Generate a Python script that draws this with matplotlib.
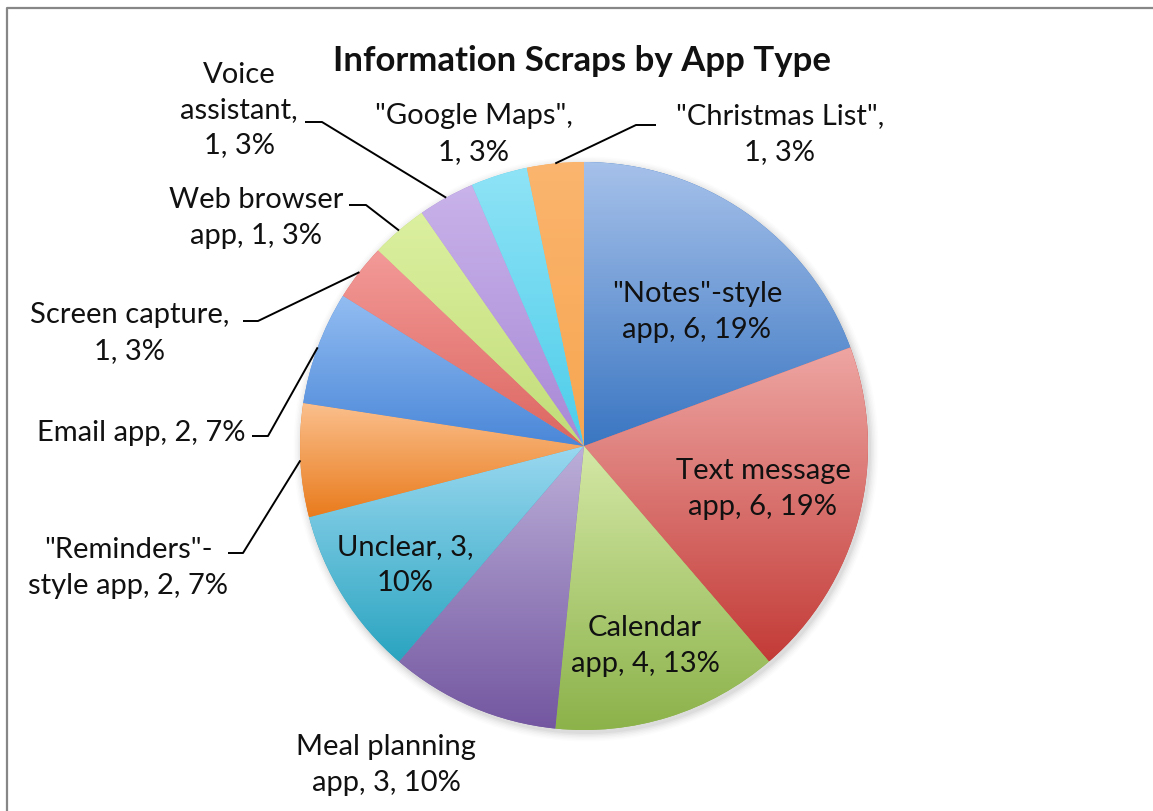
import numpy as np
import matplotlib
matplotlib.use("Agg")
import matplotlib.pyplot as plt

# Information scraps counted per app type (clockwise from 12 o'clock)
apps = ['"Notes"-style app', "Text message app", "Calendar app",
        "Meal planning app", "Unclear", '"Reminders"-style app', "Email app",
        "Screen capture", "Web browser app", "Voice assistant",
        '"Google Maps"', '"Christmas List"']
counts = [6, 6, 4, 3, 3, 2, 2, 1, 1, 1, 1, 1]
pct_shown = [19, 19, 13, 10, 10, 7, 7, 3, 3, 3, 3, 3]

# light (top) / dark (bottom) gradient stops per slice
tops = ["#a6c1ea", "#eea6a3", "#d4e8a6", "#bcafd9", "#9ad8f0", "#fbc08e",
        "#93bdf2", "#f39a98", "#dcf0a0", "#c9b3ea", "#8fe3f6", "#fbb56e"]
bottoms = ["#3a76c2", "#c33b37", "#8cb24a", "#7356a0", "#2aa4c0", "#e97b1c",
           "#4a87d8", "#dc6660", "#c2dc78", "#a888d6", "#4dcdea", "#f7a650"]

W, H = 1153, 811
CX, CY, R = 584, 446, 284
TXT = "#111111"
plt.rcParams["font.family"] = ["Lato", "DejaVu Sans"]


def py(y):
    # pixel rows run downwards, data y runs upwards
    return H - y


fig = plt.figure(figsize=(W / 100, H / 100), dpi=100)
ax = fig.add_axes([0, 0, 1, 1])

# soft drop shadow under the pie
for i, a in enumerate([0.035, 0.03, 0.025, 0.02, 0.015, 0.01]):
    ax.add_patch(plt.Circle((CX + 2, py(CY + 3)), R + 1 + i * 1.5,
                            color="#000000", alpha=a, lw=0, zorder=0))

wedges, _ = ax.pie(counts, startangle=90, counterclock=False, radius=R,
                   center=(CX, py(CY)), colors=bottoms,
                   wedgeprops=dict(linewidth=0))

# vertical gradient over each slice's own bounding box
g = np.linspace(0, 1, 256)[:, None, None]
for w, c0, c1 in zip(wedges, tops, bottoms):
    w.set_zorder(1)
    x0, y0, x1, y1 = w.get_path().get_extents().extents
    a = np.array(matplotlib.colors.to_rgb(c0))
    b = np.array(matplotlib.colors.to_rgb(c1))
    img = a * (1 - g) + b * g
    im = ax.imshow(img, extent=[x0, x1, y0, y1], origin="upper",
                   aspect="auto", interpolation="bilinear", zorder=2)
    im.set_clip_path(w)

ax.set_xlim(0, W)
ax.set_ylim(0, H)
ax.set_aspect("equal")
ax.axis("off")

# label wording, text centre, and leader elbow/end (None = no leader)
templates = ["{n}-style\napp, {c}, {p}%", "{n}\napp, {c}, {p}%",
             "{n}\napp, {c}, {p}%", "{n}\napp, {c}, {p}%", "{n}, {c},\n{p}%",
             "{n}-\nstyle app, {c}, {p}%", "{n}, {c}, {p}%",
             "{n},\n{c}, {p}%", "{n}\napp, {c}, {p}%", "{n},\n{c}, {p}%",
             "{n},\n{c}, {p}%", "{n},\n{c}, {p}%"]
heads = ['"Notes"', "Text message", "Calendar", "Meal planning", "Unclear",
         '"Reminders"', "Email app", "Screen capture", "Web browser",
         "Voice\nassistant", '"Google Maps"', '"Christmas List"']
spots = [(697, 312), (763, 489), (645, 646), (386, 765), (405, 565),
         (128, 568), (141, 433), (130, 333), (256, 218), (239, 110),
         (474, 134), (780, 134)]
leaders = [None, None, None, None, None,
           ((243, 553), (228, 553)), ((268, 436), (252, 436)),
           ((258, 321), (243, 321)), ((366, 205), (349, 205)),
           ((322, 122), (305, 122)), None, ((636, 125), (656, 125))]

for w, head, c, p, tpl, (tx, ty), ld in zip(wedges, heads, counts, pct_shown,
                                             templates, spots, leaders):
    ax.text(tx, py(ty), tpl.format(n=head, c=c, p=p), ha="center",
            va="center", fontsize=21, color=TXT, linespacing=1.45, zorder=5)
    if ld is None:
        continue
    mid = np.deg2rad((w.theta1 + w.theta2) / 2)
    xa, ya = w.center[0] + R * np.cos(mid), w.center[1] + R * np.sin(mid)
    (ex, ey), (hx, hy) = ld
    ax.plot([xa, ex, hx], [ya, py(ey), py(hy)], color="#000000", lw=1.4,
            zorder=4, solid_capstyle="butt")

ax.text(582, py(61), "Information Scraps by App Type", ha="center",
        va="center", fontsize=25, fontweight="bold", color=TXT, zorder=5)

# chart-area border (only the top and left edges fall inside the frame)
ax.plot([7, 7, W + 5], [-5, py(8), py(8)], color="#878787", lw=1.6,
        zorder=6, clip_on=False)

fig.savefig("out.png", dpi=100)
